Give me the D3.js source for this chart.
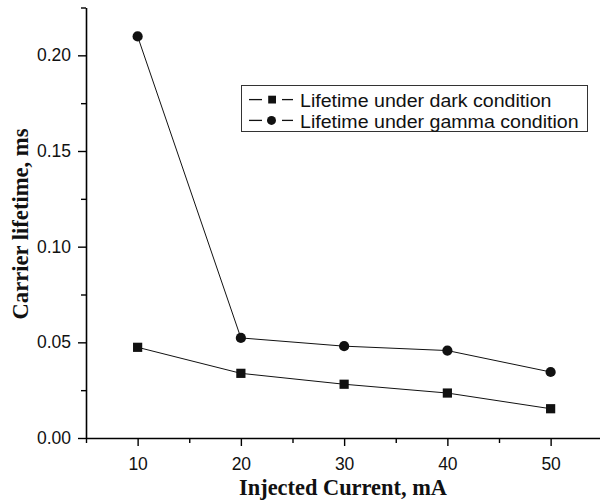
<!DOCTYPE html>
<html><head><meta charset="utf-8">
<script src="https://cdn.jsdelivr.net/npm/d3@7"></script>
<style>body{margin:0;background:#fff}svg{display:block}</style>
</head><body>
<svg id="c" width="600" height="502"></svg>
<script>
const currents = [10, 20, 30, 40, 50];
const darkLifetime = [0.0474, 0.0338, 0.0281, 0.0235, 0.0153];
const gammaLifetime = [0.2099, 0.0523, 0.0480, 0.0457, 0.0345];
const xTicks = [10, 20, 30, 40, 50];
const yTicks = [0.00, 0.05, 0.10, 0.15, 0.20];
const seriesNames = ["Lifetime under dark condition", "Lifetime under gamma condition"];

const svg = d3.select("#c");
const x = d3.scaleLinear().domain([5, 55]).range([86, 602.25]);
const y = d3.scaleLinear().domain([0, 0.225]).range([438, 7.5]);

// axes
const xAxis = d3.axisBottom(x).tickValues(xTicks).tickFormat(d3.format("d")).tickSize(8).tickSizeOuter(0);
const gx = svg.append("g").attr("transform", "translate(0,438)").call(xAxis);
svg.append("g").attr("transform", "translate(0,438)")
  .call(d3.axisBottom(x).tickValues([5,15,25,35,45,55]).tickFormat("").tickSize(5).tickSizeOuter(0))
  .select(".domain").remove();

const yAxis = d3.axisLeft(y).tickValues(yTicks).tickFormat(d3.format(".2f")).tickSize(8).tickSizeOuter(0);
const gy = svg.append("g").attr("transform", "translate(86,0)").call(yAxis);
svg.append("g").attr("transform", "translate(86,0)")
  .call(d3.axisLeft(y).tickValues([0.025,0.075,0.125,0.175,0.225]).tickFormat("").tickSize(5).tickSizeOuter(0))
  .select(".domain").remove();

svg.selectAll(".domain").attr("stroke", "#000").attr("stroke-width", 1.6);
svg.selectAll(".tick line").attr("stroke", "#000").attr("stroke-width", 1.4);
svg.selectAll(".tick text").attr("font-family", "Liberation Sans, Arial, sans-serif")
  .attr("font-size", 17.5).attr("fill", "#111");
gx.selectAll(".tick text").attr("dy", null).attr("y", 31.5);
gy.selectAll(".tick text").attr("x", -15);

// axis titles
svg.append("text").attr("x", 343).attr("y", 495).attr("text-anchor", "middle")
  .attr("font-family", "Liberation Serif, Times New Roman, serif").attr("font-weight", "bold")
  .attr("font-size", 22.4).attr("fill", "#111").text("Injected Current, mA");
svg.append("text").attr("transform", "translate(28,224) rotate(-90)").attr("text-anchor", "middle")
  .attr("font-family", "Liberation Serif, Times New Roman, serif").attr("font-weight", "bold")
  .attr("font-size", 22.6).attr("fill", "#111").text("Carrier lifetime, ms");

// lines
const line = d3.line().x((d,i)=>x(currents[i])).y(d=>y(d));
[darkLifetime, gammaLifetime].forEach(s => {
  svg.append("path").datum(s).attr("d", line).attr("fill", "none")
    .attr("stroke", "#111").attr("stroke-width", 1);
});
svg.append("g").selectAll("rect").data(darkLifetime).join("rect")
  .attr("x", (d,i)=>x(currents[i])-4.6).attr("y", d=>y(d)-4.6)
  .attr("width", 9.2).attr("height", 9.2).attr("fill", "#111");
svg.append("g").selectAll("circle").data(gammaLifetime).join("circle")
  .attr("cx", (d,i)=>x(currents[i])).attr("cy", d=>y(d)).attr("r", 5.1).attr("fill", "#111");

// legend
const lg = svg.append("g");
lg.append("rect").attr("x", 241.5).attr("y", 85.5).attr("width", 346).attr("height", 46)
  .attr("fill", "#fff").attr("stroke", "#333").attr("stroke-width", 1);
const legFont = 18.3;
seriesNames.forEach((name, i) => {
  const base = 107.2 + i * 20.8;
  const cy = base - 7.6;
  [[249, 262], [282, 293]].forEach(([a, b]) => {
    lg.append("line").attr("x1", a).attr("x2", b).attr("y1", cy).attr("y2", cy)
      .attr("stroke", "#111").attr("stroke-width", 1.3);
  });
  if (i === 0) lg.append("rect").attr("x", 268.2).attr("y", cy-3.9).attr("width", 7.8).attr("height", 7.8).attr("fill", "#111");
  else lg.append("circle").attr("cx", 271.5).attr("cy", cy).attr("r", 4.5).attr("fill", "#111");
  const t = lg.append("text").attr("x", 300).attr("y", base)
    .attr("font-family", "Liberation Sans, Arial, sans-serif").attr("font-size", legFont)
    .attr("fill", "#111").text(name);
  const len = t.node().getComputedTextLength();
  t.attr("textLength", len * 19.6 / legFont).attr("lengthAdjust", "spacingAndGlyphs");
});
</script>
</body></html>
